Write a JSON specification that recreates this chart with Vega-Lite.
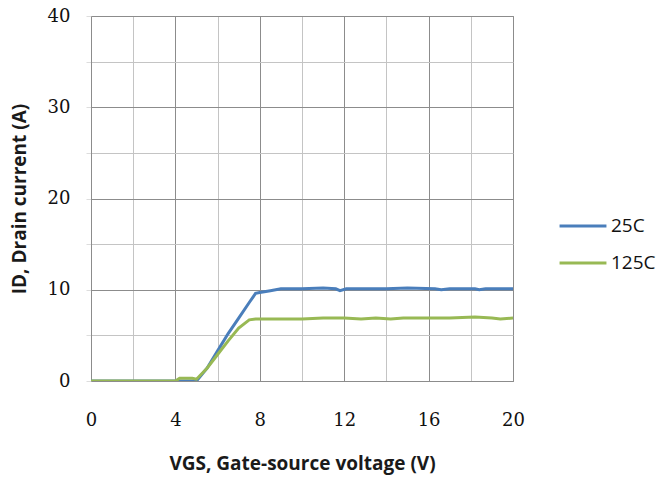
{
  "$schema": "https://vega.github.io/schema/vega-lite/v6.json",
  "width": 422,
  "height": 365,
  "autosize": {"type": "none"},
  "padding": {"left": 91, "top": 16, "right": 147, "bottom": 98},
  "background": "white",
  "config": {
    "view": {"stroke": "#8c8c8c", "strokeWidth": 1}
  },
  "data": {
    "values": [
      {"v": 0, "id": 0, "s": "25C"}, {"v": 2, "id": 0, "s": "25C"}, {"v": 4, "id": 0, "s": "25C"},
      {"v": 5, "id": 0, "s": "25C"}, {"v": 5.5, "id": 1.4, "s": "25C"}, {"v": 6, "id": 3.3, "s": "25C"},
      {"v": 6.5, "id": 5.2, "s": "25C"}, {"v": 7, "id": 6.9, "s": "25C"}, {"v": 7.5, "id": 8.6, "s": "25C"},
      {"v": 7.8, "id": 9.6, "s": "25C"}, {"v": 8, "id": 9.7, "s": "25C"}, {"v": 8.5, "id": 9.9, "s": "25C"},
      {"v": 9, "id": 10.1, "s": "25C"}, {"v": 10, "id": 10.1, "s": "25C"}, {"v": 11, "id": 10.2, "s": "25C"},
      {"v": 11.6, "id": 10.1, "s": "25C"}, {"v": 11.8, "id": 9.9, "s": "25C"}, {"v": 12.1, "id": 10.1, "s": "25C"},
      {"v": 14, "id": 10.1, "s": "25C"}, {"v": 15, "id": 10.2, "s": "25C"}, {"v": 16.3, "id": 10.1, "s": "25C"},
      {"v": 16.6, "id": 10.0, "s": "25C"}, {"v": 17, "id": 10.1, "s": "25C"}, {"v": 18.2, "id": 10.1, "s": "25C"},
      {"v": 18.4, "id": 10.0, "s": "25C"}, {"v": 18.7, "id": 10.1, "s": "25C"}, {"v": 20, "id": 10.1, "s": "25C"},
      {"v": 0, "id": 0, "s": "125C"}, {"v": 2, "id": 0, "s": "125C"}, {"v": 4, "id": 0, "s": "125C"},
      {"v": 4.2, "id": 0.3, "s": "125C"}, {"v": 4.8, "id": 0.3, "s": "125C"}, {"v": 5, "id": 0.2, "s": "125C"},
      {"v": 5.5, "id": 1.4, "s": "125C"}, {"v": 6, "id": 2.9, "s": "125C"}, {"v": 6.5, "id": 4.4, "s": "125C"},
      {"v": 7, "id": 5.8, "s": "125C"}, {"v": 7.5, "id": 6.7, "s": "125C"}, {"v": 7.8, "id": 6.8, "s": "125C"},
      {"v": 9, "id": 6.8, "s": "125C"}, {"v": 10, "id": 6.8, "s": "125C"}, {"v": 11, "id": 6.9, "s": "125C"},
      {"v": 12, "id": 6.9, "s": "125C"}, {"v": 12.8, "id": 6.8, "s": "125C"}, {"v": 13.5, "id": 6.9, "s": "125C"},
      {"v": 14.2, "id": 6.8, "s": "125C"}, {"v": 14.8, "id": 6.9, "s": "125C"}, {"v": 16, "id": 6.9, "s": "125C"},
      {"v": 17, "id": 6.9, "s": "125C"}, {"v": 18.2, "id": 7.0, "s": "125C"}, {"v": 19, "id": 6.9, "s": "125C"},
      {"v": 19.4, "id": 6.8, "s": "125C"}, {"v": 20, "id": 6.9, "s": "125C"}
    ]
  },
  "mark": {"type": "line", "strokeWidth": 3, "clip": true},
  "encoding": {
    "x": {
      "field": "v", "type": "quantitative",
      "scale": {"domain": [0, 20], "nice": false},
      "axis": {
        "values": [0, 2, 4, 6, 8, 10, 12, 14, 16, 18, 20],
        "labelExpr": "datum.value % 4 == 0 ? datum.label : ''",
        "labelFlush": false,
        "labelOverlap": false,
        "title": "VGS, Gate-source voltage (V)",
        "titleFont": "Open Sans", "titleFontSize": 19, "titleFontWeight": "bold", "titleColor": "#1a1a1a",
        "titlePadding": 25,
        "labelFont": "DejaVu Serif", "labelFontSize": 18, "labelColor": "#111",
        "labelPadding": 30,
        "domainColor": "#8c8c8c",
        "tickSize": 0,
        "gridColor": {"condition": {"test": "datum.value % 4 == 0", "value": "#8c8c8c"}, "value": "#c4c4c4"},
        "gridOpacity": 1
      }
    },
    "y": {
      "field": "id", "type": "quantitative",
      "scale": {"domain": [0, 40], "nice": false},
      "axis": {
        "values": [0, 5, 10, 15, 20, 25, 30, 35, 40],
        "labelExpr": "datum.value % 10 == 0 ? datum.label : ''",
        "labelOverlap": false,
        "title": "ID, Drain current (A)",
        "titleFont": "Open Sans", "titleFontSize": 19, "titleFontWeight": "bold", "titleColor": "#1a1a1a",
        "titlePadding": 18,
        "labelFont": "DejaVu Serif", "labelFontSize": 18, "labelColor": "#111",
        "labelPadding": 16,
        "domainColor": "#8c8c8c",
        "tickSize": 5, "tickColor": "#dddddd",
        "gridColor": {"condition": {"test": "datum.value % 10 == 0", "value": "#8c8c8c"}, "value": "#c4c4c4"},
        "gridOpacity": 1
      }
    },
    "color": {
      "field": "s", "type": "nominal",
      "scale": {"domain": ["25C", "125C"], "range": ["#4a7ebb", "#98b954"]},
      "legend": {
        "title": null, "orient": "none", "legendX": 467, "legendY": 185,
        "symbolType": "stroke", "symbolStrokeWidth": 3, "symbolSize": 2200,
        "labelFont": "Open Sans", "labelFontSize": 19, "labelColor": "#111",
        "rowPadding": 2, "labelOffset": 3
      }
    }
  }
}
